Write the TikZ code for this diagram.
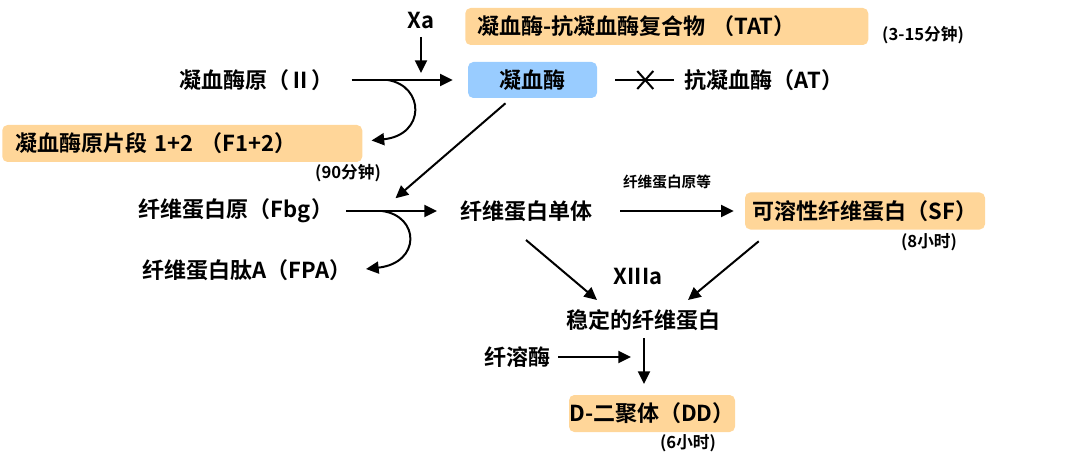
\documentclass[tikz,border=0pt]{standalone}
\usepackage{fontspec}
\setmainfont{Noto Sans CJK SC}[BoldFont={Noto Sans CJK SC Bold}]
\usetikzlibrary{arrows.meta,calc}
\definecolor{boxorange}{RGB}{255,214,153}
\definecolor{boxblue}{RGB}{153,204,255}
\begin{document}
\begin{tikzpicture}[x=0.75pt,y=-0.75pt,
  lbl/.style={font=\fontsize{16.5pt}{18pt}\selectfont\bfseries, inner sep=0pt},
  small/.style={font=\fontsize{11pt}{12pt}\selectfont\bfseries, inner sep=0pt},
  timelbl/.style={font=\fontsize{12.5pt}{13pt}\selectfont\bfseries, inner sep=0pt},
  obox/.style={lbl, fill=boxorange, rounded corners=4pt, minimum height=27.75pt, inner ysep=0pt, align=left},
  arr/.style={line width=1.5pt, -{Triangle[length=9.5pt,width=9pt]}},
  plain/.style={line width=1.5pt},
]
\useasboundingbox (0,0) rectangle (1080,463);

% nodes
\node[lbl] (xa) at (421,21) {Xa};
\node[obox, anchor=west, text width=284.25pt, inner xsep=9pt] (tat) at (465,26.5) {凝血酶-抗凝血酶复合物 （TAT）};
\node[timelbl] (tatt) at (923,35) {(3-15分钟)};
\node[lbl] (pro) at (256,80) {凝血酶原（Ⅱ）};
\node[lbl, fill=boxblue, rounded corners=4pt, minimum width=96.75pt, minimum height=27pt] (thr) at (532.5,80) {凝血酶};
\node[lbl] (at) at (764,80) {抗凝血酶（AT）};
\node[obox, anchor=west, text width=250.5pt, inner xsep=9.75pt] (f12) at (2,143.5) {凝血酶原片段 1+2 （F1+2）};
\node[timelbl] (f12t) at (348,173) {(90分钟)};
\node[lbl] (fbg) at (236,211) {纤维蛋白原（Fbg）};
\node[lbl] (fpa) at (247,270) {纤维蛋白肽A（FPA）};
\node[lbl] (mono) at (526,211) {纤维蛋白单体};
\node[small] (mlab) at (667,182) {纤维蛋白原等};
\node[obox, minimum width=180pt, inner xsep=0pt] (sf) at (865,211) {可溶性纤维蛋白（SF）};
\node[timelbl] (sft) at (929,242) {(8小时)};
\node[lbl] (xiii) at (638,277) {XIIIa};
\node[lbl] (fib) at (643,320) {稳定的纤维蛋白};
\node[lbl] (pls) at (517,357) {纤溶酶};
\node[obox, minimum width=124.5pt, inner xsep=0pt] (dd) at (652,413.5) {D-二聚体（DD）};
\node[timelbl] (ddt) at (688,443) {(6小时)};

% connectors
\draw[arr] ($(xa.center)+(0,16)$) -- ($(xa.center)+(0,52)$);
\draw[arr] ($(thr.west)+(-116,0)$) -- ($(thr.west)+(-15,0)$);
\draw[arr] ($(thr.west)+(-80,0)$) .. controls ($(thr.west)+(-43,6)$) and ($(thr.west)+(-42,55)$) .. ($(f12.east)+(9,-3)$);
\draw[plain] ($(thr.east)+(18,0)$) -- ($(thr.east)+(77,0)$);
\draw[plain] ($(thr.east)+(40,-9)$) -- ($(thr.east)+(56,9)$);
\draw[plain] ($(thr.east)+(40,9)$) -- ($(thr.east)+(56,-9)$);
\draw[arr] ($(thr.south)+(-27,5)$) -- ($(thr.south)+(-137,100)$);
\draw[arr] ($(mono.center)+(-180,0)$) -- ($(mono.center)+(-89,0)$);
\draw[arr] ($(mono.center)+(-144,0)$) .. controls ($(mono.center)+(-106,5)$) and ($(mono.center)+(-105,52)$) .. ($(mono.center)+(-160,58)$);
\draw[arr] ($(mono.center)+(94,0)$) -- ($(sf.west)+(-11,0)$);
\draw[arr] ($(mono.center)+(0,29)$) -- ($(fib.center)+(-46,-20)$);
\draw[arr] ($(sf.south west)+(14,11.5)$) -- ($(fib.center)+(45,-20)$);
\draw[arr] ($(fib.center)+(1,18)$) -- ($(fib.center)+(1,64)$);
\draw[arr] ($(pls.center)+(41,0)$) -- ($(pls.center)+(114,0)$);
\end{tikzpicture}
\end{document}
